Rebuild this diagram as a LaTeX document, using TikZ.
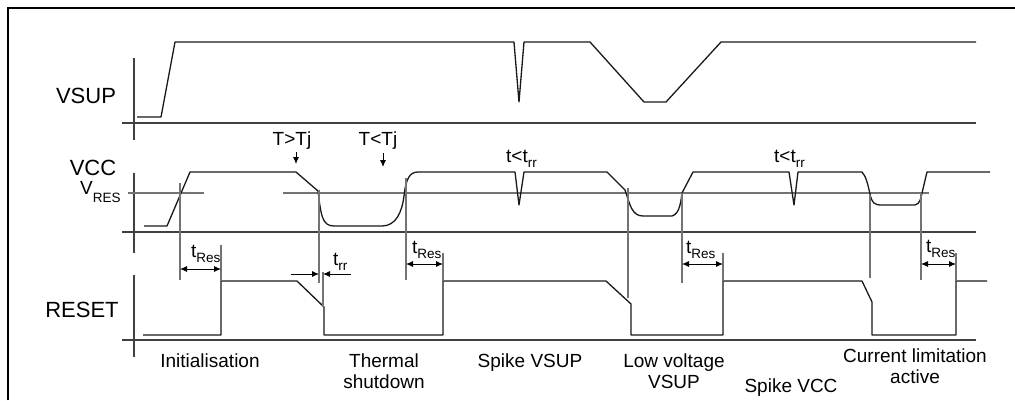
\documentclass[tikz,border=0pt]{standalone}
\usepackage{fontspec}
\setmainfont{Liberation Sans}
\usetikzlibrary{arrows.meta}
\newcommand{\mysub}[2][5pt]{\raisebox{-#1}{\fontsize{13.5}{14}\selectfont #2}}
\begin{document}
\begin{tikzpicture}[x=1pt,y=-1pt,
  big/.style={font=\fontsize{22}{24}\selectfont, inner sep=0pt, anchor=base},
  lbl/.style={font=\fontsize{19}{22}\selectfont, inner sep=0pt, anchor=base},
  sig/.style={line width=1.3pt, black!90, line join=round},
  axisline/.style={line width=1.4pt, black!75},
  mline/.style={line width=1.1pt, black!55},
  arr/.style={line width=0.9pt, black, -{Latex[length=7pt,width=6pt]}},
  darr/.style={line width=0.9pt, black, {Latex[length=7pt,width=6pt]}-{Latex[length=7pt,width=6pt]}}]
\useasboundingbox (0,0) rectangle (1015,400);
\fill[white] (0,0) rectangle (1015,400);
% frame
\draw[line width=2.5pt] (8,400) -- (8,8) -- (1015,8);

% ---------- VSUP ----------
\draw[axisline] (134,58) -- (134,140);
\draw[axisline] (122,123) -- (976,123);
\draw[sig] (137,117) -- (161,117) -- (175,42) -- (514,42) -- (519,102) -- (524,42)
  -- (590,42) -- (644,102) -- (666,102) -- (721,42) -- (976,42);

% ---------- VCC ----------
\draw[axisline] (134,173) -- (134,253);
\draw[axisline] (122,232) -- (976,232);
\draw[mline] (128,193) -- (204,193);
\draw[mline] (283,193) -- (929,193);
\draw[sig] (144,226) -- (167,226) -- (190,172) -- (296,172) -- (318,191)
  .. controls (321,215) and (322,226) .. (334,226) -- (382,226)
  .. controls (396,226) and (402,212) .. (404,196)
  .. controls (406,178) and (410,172) .. (418,172)
  -- (515,172) -- (519,205) -- (524,172) -- (607,172) -- (625,190)
  .. controls (630,205) and (632,216) .. (643,216) -- (672,216)
  .. controls (680,214) and (681,200) .. (682,193) -- (693,172)
  -- (789,172) -- (794,205) -- (798,172) -- (862,172)
  .. controls (866,176) and (868,185) .. (870,194)
  .. controls (872,203) and (874,205) .. (882,205) -- (915,205)
  .. controls (920,204) and (921,198) .. (922,193) -- (927,172) -- (990,172);

% ---------- RESET ----------
\draw[axisline] (134,275) -- (134,357);
\draw[axisline] (122,340) -- (976,340);
\draw[sig] (143,335) -- (221,335) -- (221,281) -- (297,281) -- (324,307) -- (324,335)
  -- (443,335) -- (443,281) -- (606,281) -- (631,304) -- (631,335)
  -- (723,335) -- (723,281) -- (862,281) -- (872,302) -- (872,335)
  -- (956,335) -- (956,281) -- (987,281);

% ---------- markers ----------
\draw[mline] (180,183) -- (180,280);
\draw[mline] (221,245) -- (221,281);
\draw[mline] (319,190) -- (319,283);
\draw[mline] (323,272) -- (323,307);
\draw[mline] (406,178) -- (406,280);
\draw[mline] (443,253) -- (443,281);
\draw[mline] (628,188) -- (628,298);
\draw[mline] (682,193) -- (682,283);
\draw[mline] (723,253) -- (723,281);
\draw[mline] (870,195) -- (870,278);
\draw[mline] (921,193) -- (921,280);
\draw[mline] (956,253) -- (956,281);

% ---------- time arrows ----------
\coordinate (r1a) at (180,269); \coordinate (r1b) at (221,269);
\coordinate (r2a) at (406,264); \coordinate (r2b) at (443,264);
\coordinate (r3a) at (682,264); \coordinate (r3b) at (723,264);
\coordinate (r4a) at (921,264); \coordinate (r4b) at (956,264);
\draw[darr] (r1a) -- (r1b);
\draw[darr] (r2a) -- (r2b);
\draw[darr] (r3a) -- (r3b);
\draw[darr] (r4a) -- (r4b);
\coordinate (rra0) at (291,274); \coordinate (rra1) at (319,274);
\coordinate (rrb0) at (351,274); \coordinate (rrb1) at (323,274);
\draw[arr] (rra0) -- (rra1);
\draw[arr] (rrb0) -- (rrb1);

% ---------- labels ----------
\node[big] (vsup) at (86,103) {VSUP};
\node[big] (vcc) at (93,175) {VCC};
\node[lbl, anchor=base west] (vres) at (80,194) {V\mysub[8pt]{RES}};
\node[big] (reset) at (82,317) {RESET};

\node[lbl] (tgt) at (292,145) {T>Tj};
\node[lbl] (tlt) at (378,145) {T<Tj};
\coordinate (tgtp) at (296,164);
\coordinate (tltp) at (383,167);
\draw[arr] (296,152) -- (tgtp);
\draw[arr] (383,153) -- (tltp);

\node[lbl, anchor=base west] (sp1) at (506,162) {t<t\mysub{rr}};
\node[lbl, anchor=base west] (sp2) at (774,162) {t<t\mysub{rr}};

\node[lbl, anchor=base west] (tr1) at (191,257) {t\mysub{Res}};
\node[lbl, anchor=base west] (tr2) at (412,253) {t\mysub{Res}};
\node[lbl, anchor=base west] (tr3) at (686,253) {t\mysub{Res}};
\node[lbl, anchor=base west] (tr4) at (926,252) {t\mysub{Res}};
\node[lbl, anchor=base west] (trr) at (333,265) {t\mysub{rr}};

\node[lbl] (init) at (210,367) {Initialisation};
\node[lbl] (th1) at (384,367) {Thermal};
\node[lbl] (th2) at (384,388) {shutdown};
\node[lbl] (spv) at (530,367) {Spike VSUP};
\node[lbl] (lv1) at (674,367) {Low voltage};
\node[lbl] (lv2) at (674,388) {VSUP};
\node[lbl] (spc) at (791,392) {Spike VCC};
\node[lbl] (cl1) at (915,362) {Current limitation};
\node[lbl] (cl2) at (915,383) {active};
\end{tikzpicture}
\end{document}
